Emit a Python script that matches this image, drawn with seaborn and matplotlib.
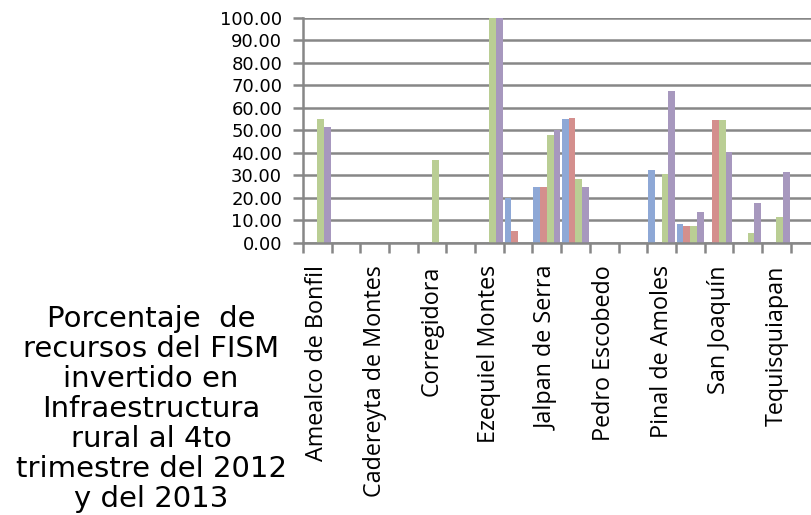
import numpy as np
import pandas as pd
import matplotlib
matplotlib.use("Agg")
import matplotlib.pyplot as plt
import seaborn as sns

municipios = ["Amealco de Bonfil", "Arroyo Seco", "Cadereyta de Montes", "Colón",
              "Corregidora", "El Marqués", "Ezequiel Montes", "Huimilpan",
              "Jalpan de Serra", "Landa de Matamoros", "Pedro Escobedo", "Peñamiller",
              "Pinal de Amoles", "Querétaro", "San Joaquín", "San Juan del Río",
              "Tequisquiapan", "Tolimán"]
series = ["Serie 1", "Serie 2", "Serie 3", "Serie 4"]
serie1 = [0, 0, 0, 0, 0, 0, 0, 19.8, 24.7, 55.0, 0, 0, 32.4, 8.6, 0, 0, 0, 0]
serie2 = [0, 0, 0, 0, 0, 0, 0, 5.5, 24.7, 55.6, 0, 0, 0, 7.7, 54.6, 0, 0, 0]
serie3 = [55.0, 0, 0, 0, 36.8, 0, 100.0, 0, 47.9, 28.4, 0, 0, 30.8, 7.7, 54.6, 4.3, 11.5, 0]
serie4 = [51.3, 0, 0, 0, 0, 0, 100.0, 0, 50.0, 24.9, 0, 0, 67.6, 13.6, 40.2, 17.6, 31.5, 0]
yticks = [0, 10, 20, 30, 40, 50, 60, 70, 80, 90, 100]
titulo = "Porcentaje  de\nrecursos del FISM\ninvertido en\nInfraestructura\nrural al 4to\ntrimestre del 2012\ny del 2013"

colors = ["#8EA8D6", "#D48F8D", "#BACE94", "#A798BE"]

df = pd.DataFrame({
    "municipio": municipios * 4,
    "serie": np.repeat(series, len(municipios)),
    "valor": serie1 + serie2 + serie3 + serie4,
})

fig = plt.figure(figsize=(8.11, 5.15), dpi=100)
ax = fig.add_axes([303 / 811, 1 - 243 / 515, 1 - 303 / 811, (243 - 17.7) / 515])

sns.barplot(data=df, x="municipio", y="valor", hue="serie", order=municipios,
            hue_order=series, palette=colors, width=0.94, gap=0, linewidth=0,
            saturation=1, ax=ax, legend=False)

n = len(municipios)
ax.set_xlim(-0.5, -0.5 + (811 - 302.7) / 28.7)
ax.set_ylim(0, 100)
ax.set_yticks(yticks)
ax.set_yticklabels([f"{v:.2f}" for v in yticks], fontsize=13, family="DejaVu Sans")
ax.yaxis.grid(True, color="#878787", linewidth=1.8)
ax.set_axisbelow(True)

# category boundaries as major ticks, labels as minor ticks
ax.set_xticks(np.arange(n) - 0.5)
ax.set_xticklabels([])
ax.set_xticks(np.arange(n), minor=True)
ax.set_xticklabels([m if i % 2 == 0 else "" for i, m in enumerate(municipios)],
                   minor=True, rotation=90, fontsize=16.8, family="Open Sans",
                   va="top", ha="center")
ax.tick_params(axis="x", which="minor", length=0, pad=16)
ax.tick_params(axis="x", which="major", length=7, width=1.8, color="#878787", direction="out")
ax.tick_params(axis="y", length=7, width=1.8, color="#878787", direction="out", pad=8)

ax.set_xlabel("")
ax.set_ylabel("")
for s in ["top", "right"]:
    ax.spines[s].set_visible(False)
for s in ["left", "bottom"]:
    ax.spines[s].set_color("#878787")
    ax.spines[s].set_linewidth(1.8)

fig.text(151 / 811, 1 - 409 / 515, titulo, ha="center", va="center",
         multialignment="center", fontsize=21, family="DejaVu Sans",
         linespacing=1.09)

fig.savefig("out.png", dpi=100)
